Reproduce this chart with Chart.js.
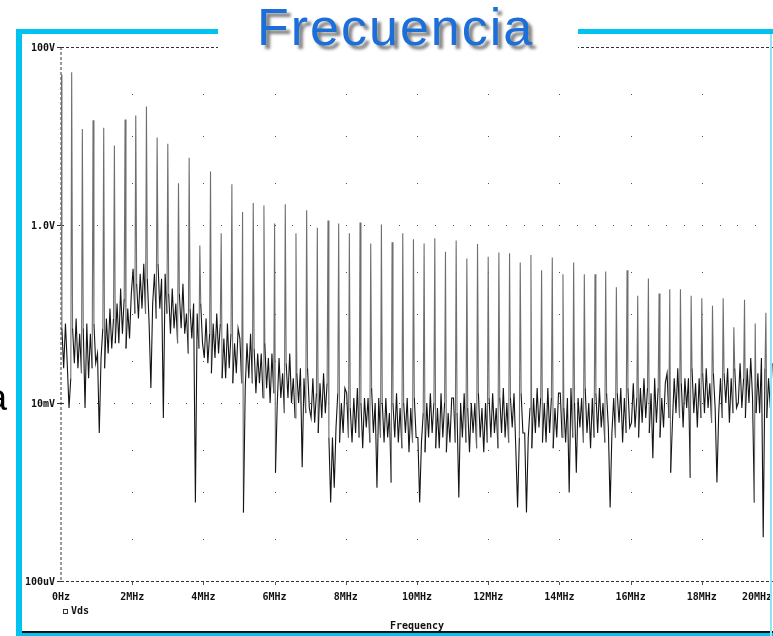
<!DOCTYPE html>
<html>
<head>
<meta charset="utf-8">
<script src="https://cdn.jsdelivr.net/npm/chart.js@4/dist/chart.umd.min.js"></script>
<style>
  html, body { margin: 0; padding: 0; background: #fff; }
  #wrap { position: relative; width: 773px; height: 636px; overflow: hidden; background: #fff; }
  #plot { position: absolute; left: 0; top: 0; }
  .bar { position: absolute; background: #00c4ef; }
  #mask { position: absolute; left: 218px; top: 0; width: 360px; height: 50px; background: #fff; }
  #title { position: absolute; left: 257px; top: -3px; font-family: "Liberation Sans", Arial, sans-serif;
           font-size: 52px; letter-spacing: 2px; color: #1c6fd8; text-shadow: 4px 4px 3px rgba(90,90,90,0.75); white-space: nowrap; }
  #side { position: absolute; left: -13px; top: 377px; font-family: "Liberation Sans", Arial, sans-serif;
          font-size: 36px; color: #000; }
</style>
</head>
<body>
<div id="wrap">
  <canvas id="plot" width="773" height="636"></canvas>
  <div id="mask"></div>
  <div id="title">Frecuencia</div>
  <div id="side">a</div>
  <div class="bar" style="left:16px;top:29px;width:6px;height:607px"></div>
  <div class="bar" style="left:16px;top:29px;width:202px;height:5px"></div>
  <div class="bar" style="left:578px;top:29px;width:195px;height:5px"></div>
  <div class="bar" style="left:16px;top:633px;width:757px;height:3px"></div>
  <div style="position:absolute;left:22px;top:631px;width:751px;height:2px;background:#111"></div>
  <div class="bar" style="left:770px;top:34px;width:2px;height:602px;background:#8fe4f8"></div>
</div>
<script>
// Harmonic lines of the switching waveform (MHz) and their peak amplitude (V)
const harmonicMHz = [
  0.0, 0.3, 0.6, 0.9, 1.2, 1.5, 1.8, 2.1, 2.4, 2.7,
  3.0, 3.3, 3.6, 3.9, 4.2, 4.5, 4.8, 5.1, 5.4, 5.7,
  6.0, 6.3, 6.6, 6.9, 7.2, 7.5, 7.8, 8.1, 8.4, 8.7,
  9.0, 9.3, 9.6, 9.9, 10.2, 10.5, 10.8, 11.1, 11.4, 11.7,
  12.0, 12.3, 12.6, 12.9, 13.2, 13.5, 13.8, 14.1, 14.4, 14.7,
  15.0, 15.3, 15.6, 15.9, 16.2, 16.5, 16.8, 17.1, 17.4, 17.7,
  18.0, 18.3, 18.6, 18.9, 19.2, 19.5, 19.8
];
const harmonicV = [
  49, 52, 12, 15, 12.4, 7.8, 15.3, 17, 21.5, 9.6,
  8.2, 2.95, 5.7, 0.59, 4.0, 0.81, 2.87, 1.40, 1.77, 1.66,
  1.04, 1.71, 0.81, 1.46, 0.93, 1.12, 1.04, 0.81, 1.07, 0.62,
  1.01, 0.64, 0.81, 0.69, 0.62, 0.71, 0.50, 0.67, 0.42, 0.61,
  0.44, 0.49, 0.48, 0.38, 0.46, 0.31, 0.43, 0.28, 0.38, 0.28,
  0.28, 0.30, 0.20, 0.31, 0.16, 0.25, 0.17, 0.19, 0.19, 0.16,
  0.15, 0.124, 0.15, 0.071, 0.145, 0.078, 0.103
];

// Noise floor between the lines, sampled every 50 kHz starting at 25 kHz (mV)
const noiseStartMHz = 0.025;
const noiseStepMHz = 0.05;
const noiseMV = [
  69, 24.6, 78, 28, 8.8, 19, 69, 28, 89, 24.6, 60, 21.6, 69, 8.8, 78, 19, 60, 24.6, 78, 28,
  36, 4.6, 32, 69, 24.6, 89, 36, 115, 41, 89, 47, 131, 47, 193, 60, 149, 41, 115, 53, 169,
  322, 101, 219, 89, 283, 115, 366, 101, 249, 78, 14.7, 131, 283, 89, 366, 115, 249, 6.8, 283, 101,
  169, 60, 193, 69, 131, 47, 169, 69, 219, 60, 101, 36, 115, 53, 131, 0.76, 101, 41, 131, 47,
  32, 89, 28, 60, 21.6, 78, 32, 101, 36, 78, 19, 53, 19, 78, 24.6, 60, 16.7, 47, 21.6, 69,
  53, 16.7, 0.59, 14.7, 47, 19, 60, 16.7, 41, 12.9, 36, 16.7, 36, 11.4, 47, 14.7, 32, 10, 36, 12.9,
  1.65, 10, 32, 11.4, 21.6, 7.7, 28, 11.4, 36, 10, 19, 6.8, 21.6, 10, 24.6, 1.9, 19, 7.7, 24.6, 8.8,
  6.8, 19, 6.0, 12.9, 4.6, 16.7, 6.8, 21.6, 7.7, 16.7, 4.1, 0.76, 4.1, 1.12, 5.3, 12.9, 3.6, 10, 4.6, 14.7,
  12.9, 4.1, 8.8, 3.6, 11.4, 4.6, 14.7, 4.1, 10, 3.1, 11.4, 5.3, 11.4, 3.6, 14.7, 4.6, 10, 1.12, 11.4, 4.1,
  10, 3.6, 11.4, 4.1, 7.7, 1.28, 10, 4.1, 12.9, 3.6, 8.8, 3.1, 10, 4.6, 11.4, 2.8, 8.8, 3.6, 11.4, 4.1,
  4.1, 0.76, 3.6, 7.7, 2.8, 10, 4.1, 12.9, 4.6, 10, 3.1, 8.8, 3.1, 12.9, 4.1, 10, 2.8, 7.7, 3.6, 11.4,
  11.4, 3.6, 7.7, 0.87, 10, 4.1, 12.9, 3.6, 8.8, 2.8, 10, 4.6, 10, 3.1, 12.9, 4.1, 8.8, 2.8, 10, 3.6,
  11.4, 4.1, 12.9, 4.6, 8.8, 3.1, 11.4, 4.6, 14.7, 4.1, 10, 3.6, 11.4, 5.3, 12.9, 3.1, 0.67, 4.1, 12.9, 4.6,
  4.6, 0.59, 4.1, 8.8, 3.1, 11.4, 4.6, 14.7, 5.3, 11.4, 3.6, 10, 3.6, 14.7, 4.6, 11.4, 3.1, 8.8, 4.1, 12.9,
  12.9, 4.1, 8.8, 3.6, 11.4, 0.99, 14.7, 4.1, 10, 1.65, 11.4, 5.3, 11.4, 3.6, 14.7, 4.6, 10, 3.1, 11.4, 4.1,
  12.9, 4.6, 14.7, 5.3, 10, 3.6, 12.9, 5.3, 0.67, 4.6, 11.4, 4.1, 12.9, 6.0, 14.7, 3.6, 11.4, 4.6, 14.7, 5.3,
  6.0, 16.7, 5.3, 11.4, 4.1, 14.7, 6.0, 19, 6.8, 14.7, 4.6, 12.9, 2.4, 19, 6.0, 14.7, 4.1, 11.4, 5.3, 16.7,
  21.6, 6.8, 1.65, 6.0, 19, 7.7, 24.6, 6.8, 16.7, 5.3, 19, 8.8, 19, 1.45, 24.6, 7.7, 16.7, 5.3, 19, 6.8,
  21.6, 7.7, 24.6, 8.8, 16.7, 6.0, 21.6, 8.8, 1.28, 7.7, 19, 6.8, 21.6, 10, 24.6, 6.0, 19, 7.7, 24.6, 8.8,
  10, 28, 8.8, 19, 6.8, 24.6, 10, 32, 11.4, 0.76, 7.7, 21.6, 7.7, 32, 0.31, 24.6, 6.8, 19, 8.8, 28
];

// Axis ticks
const xTickMHz = [0, 2, 4, 6, 8, 10, 12, 14, 16, 18, 20];
const xTickLabels = ['0Hz', '2MHz', '4MHz', '6MHz', '8MHz', '10MHz', '12MHz', '14MHz', '16MHz', '18MHz', '20MHz'];
const yTickValues = [100, 1, 0.01, 0.0001];
const yTickLabels = ['100V', '1.0V', '10mV', '100uV'];
const seriesName = 'Vds';
const xAxisTitle = 'Frequency';

// Merge the noise samples and the harmonic lines into one trace ordered by frequency
const trace = [];
noiseMV.forEach((mv, i) => trace.push({ x: noiseStartMHz + i * noiseStepMHz, y: mv / 1000, line: false }));
harmonicMHz.forEach((f, k) => trace.push({ x: f, y: harmonicV[k], line: true }));
trace.sort((a, b) => a.x - b.x);

const LABEL_FONT = 'bold 10px "DejaVu Sans Mono", monospace';

// Probe-style frame: dashed limits, dotted grid, labels, legend
const probeFrame = {
  id: 'probeFrame',
  beforeDatasetsDraw(chart) {
    const { ctx, chartArea: a, scales: { x, y } } = chart;
    ctx.save();
    // dotted horizontal lines on the inner labelled decades
    ctx.fillStyle = '#555';
    [1, 0.01].forEach(v => {
      const py = Math.round(y.getPixelForValue(v));
      for (let f = 0.5; f <= 20.001; f += 0.5) {
        ctx.fillRect(Math.round(x.getPixelForValue(f)), py, 1, 1);
      }
    });
    // dotted vertical lines at the frequency ticks
    xTickMHz.slice(1).forEach(f => {
      const px = Math.round(x.getPixelForValue(f));
      for (let e = -4; e <= 2; e++) {
        [1, 3].forEach(m => {
          const v = m * Math.pow(10, e);
          if (v > 0.0001 && v < 100) ctx.fillRect(px, Math.round(y.getPixelForValue(v)), 1, 1);
        });
      }
    });
    // dashed top and bottom limits
    ctx.strokeStyle = '#333';
    ctx.lineWidth = 1;
    ctx.setLineDash([3, 2]);
    [a.top, a.bottom].forEach(py => {
      ctx.beginPath();
      ctx.moveTo(a.left, py + 0.5);
      ctx.lineTo(a.right, py + 0.5);
      ctx.stroke();
    });
    // dashed left axis
    ctx.strokeStyle = '#9a9a9a';
    ctx.lineWidth = 2;
    ctx.beginPath();
    ctx.moveTo(a.left, a.top);
    ctx.lineTo(a.left, a.bottom);
    ctx.stroke();
    ctx.setLineDash([]);
    // tick marks
    ctx.strokeStyle = '#555';
    ctx.lineWidth = 1;
    xTickMHz.slice(1).forEach(f => {
      const px = Math.round(x.getPixelForValue(f)) + 0.5;
      ctx.beginPath();
      ctx.moveTo(px, a.bottom + 1);
      ctx.lineTo(px, a.bottom + 4);
      ctx.stroke();
    });
    ctx.strokeStyle = '#333';
    yTickValues.forEach(v => {
      const py = Math.round(y.getPixelForValue(v)) + 0.5;
      ctx.beginPath();
      ctx.moveTo(a.left - 4, py);
      ctx.lineTo(a.left + 3, py);
      ctx.stroke();
    });
    // tick labels
    ctx.fillStyle = '#111';
    ctx.font = LABEL_FONT;
    ctx.textBaseline = 'middle';
    ctx.textAlign = 'right';
    yTickValues.forEach((v, i) => {
      ctx.fillText(yTickLabels[i], a.left - 6, Math.round(y.getPixelForValue(v)) + 1);
    });
    xTickMHz.forEach((f, i) => {
      const px = x.getPixelForValue(f);
      const w = ctx.measureText(xTickLabels[i]).width;
      const cx = Math.min(px, chart.width - 1 - w / 2);
      ctx.textAlign = 'center';
      ctx.fillText(xTickLabels[i], cx, a.bottom + 16);
    });
    // legend
    ctx.strokeStyle = '#333';
    ctx.strokeRect(a.left + 2.5, a.bottom + 28.5, 4, 4);
    ctx.textAlign = 'left';
    ctx.fillText(seriesName, a.left + 10, a.bottom + 30);
    // axis title
    ctx.textAlign = 'center';
    ctx.fillText(xAxisTitle, (a.left + a.right) / 2, a.bottom + 45);
    ctx.restore();
  }
};

// Harmonic line segments print lighter than the dense noise scribble
const segColor = ctx => {
  const d = ctx.chart.data.datasets[0].data;
  return (d[ctx.p0DataIndex].line || d[ctx.p1DataIndex].line) ? '#6e6e6e' : '#141414';
};

new Chart(document.getElementById('plot'), {
  type: 'line',
  data: {
    datasets: [{
      label: seriesName,
      data: trace,
      borderColor: '#2a2a2a',
      borderWidth: 1.1,
      pointRadius: 0,
      tension: 0,
      fill: false,
      segment: { borderColor: segColor }
    }]
  },
  options: {
    responsive: false,
    animation: false,
    layout: { padding: { left: 61, right: 0, top: 47, bottom: 55 } },
    plugins: { legend: { display: false }, tooltip: { enabled: false } },
    scales: {
      x: { type: 'linear', min: 0, max: 20, display: false },
      y: { type: 'logarithmic', min: 0.0001, max: 100, display: false }
    }
  },
  plugins: [probeFrame]
});
</script>
</body>
</html>
